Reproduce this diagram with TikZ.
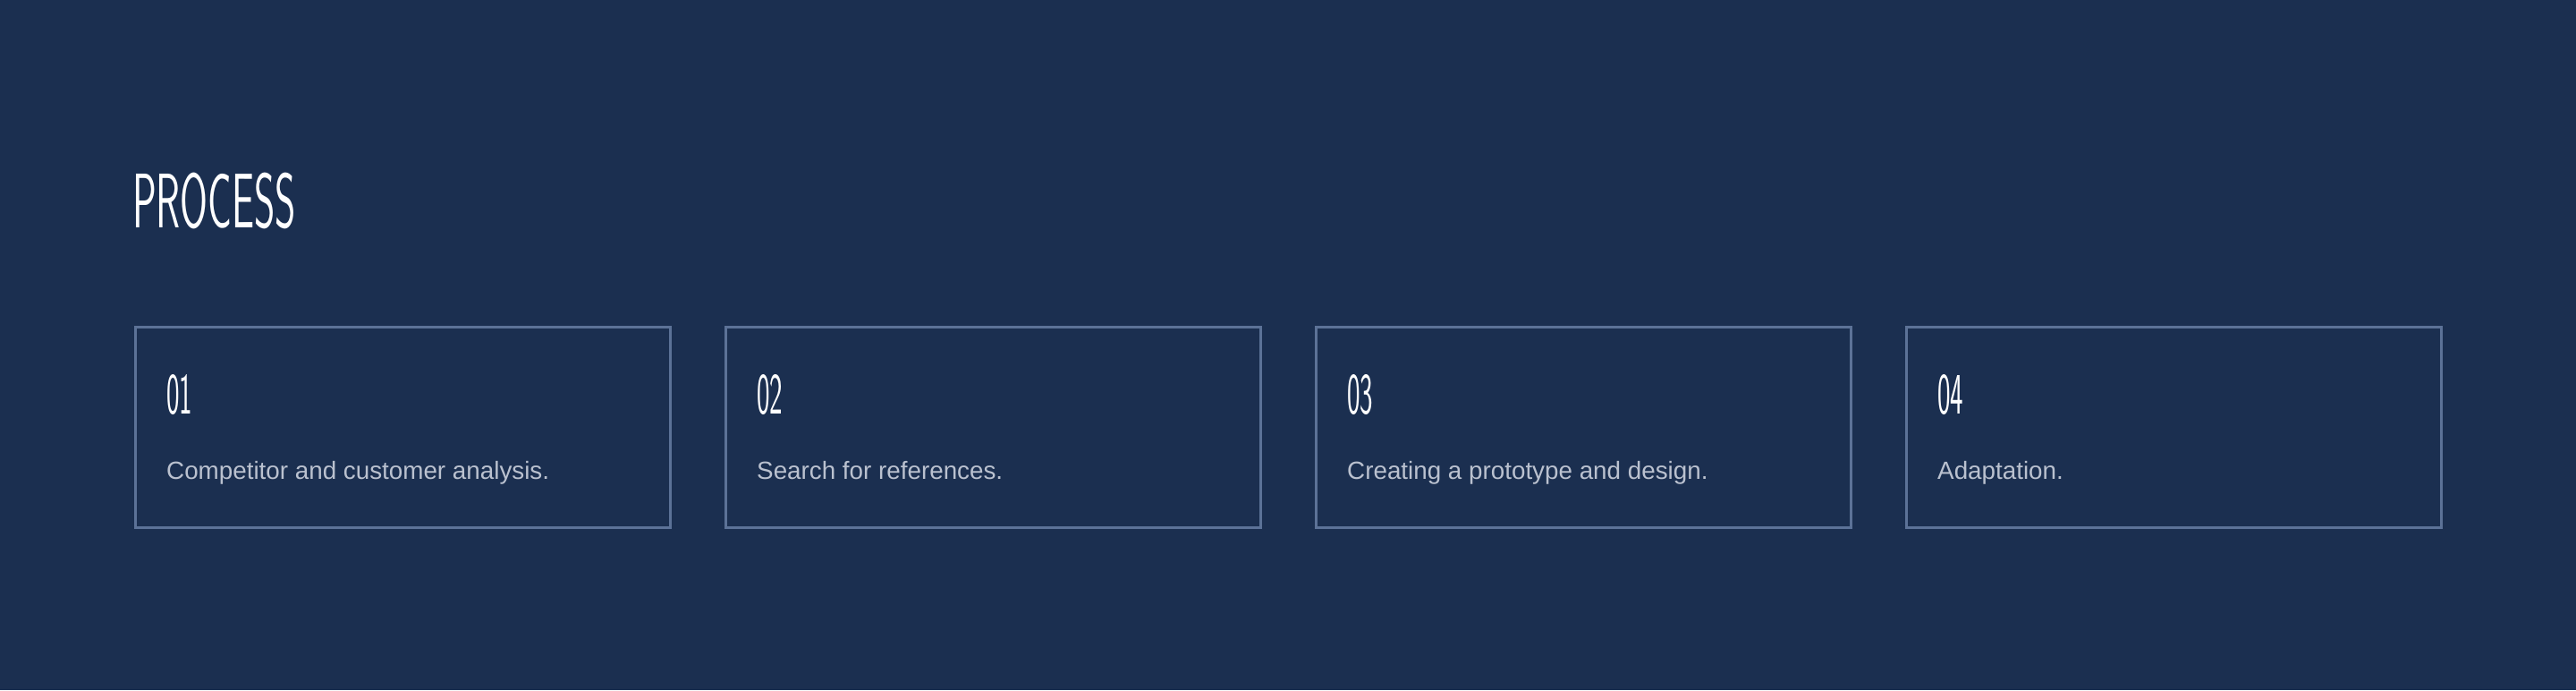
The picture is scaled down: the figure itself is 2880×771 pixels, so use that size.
\documentclass[tikz,border=0pt]{standalone}
\usepackage{fontspec}
\setmainfont{Liberation Sans}
\newfontfamily\condfont[FakeStretch=0.47]{Latin Modern Sans}
\newfontfamily\titlefont[FakeStretch=0.515]{Latin Modern Sans}
\definecolor{bgc}{HTML}{1B2F50}
\definecolor{boxc}{HTML}{5C7297}
\definecolor{bodyc}{HTML}{BAC1CF}
\begin{document}
\begin{tikzpicture}[x=1pt,y=-1pt,
  stepbox/.style={draw=boxc, line width=3pt, minimum width=598pt, minimum height=224pt, inner sep=0pt, outer sep=0pt},
  numtext/.style={anchor=base west, inner sep=0pt, text=white, font=\condfont\fontsize{65.5}{70}\selectfont},
  bodytext/.style={anchor=base west, inner sep=0pt, text=bodyc, font=\fontsize{27.8}{32}\selectfont},
  titletext/.style={anchor=base west, inner sep=0pt, text=white, font=\titlefont\fontsize{86.5}{90}\selectfont}]
\useasboundingbox (0,0) rectangle (2880,771);
\fill[bgc] (0,0) rectangle (2880,771);
\node[titletext] (title) at (148,254) {PROCESS};
\foreach \i/\n/\t in {0/01/Competitor and customer analysis., 1/02/Search for references., 2/03/Creating a prototype and design., 3/04/Adaptation.}{
  \node[stepbox] (box\i) at (450+660*\i,477.4) {};
  \node[numtext] (num\i) at ([xshift=35pt,yshift=14.9pt]box\i.west) {\n};
  \node[bodytext] (body\i) at ([xshift=35pt,yshift=-57.6pt]box\i.west) {\t};
}
\end{tikzpicture}
\end{document}
